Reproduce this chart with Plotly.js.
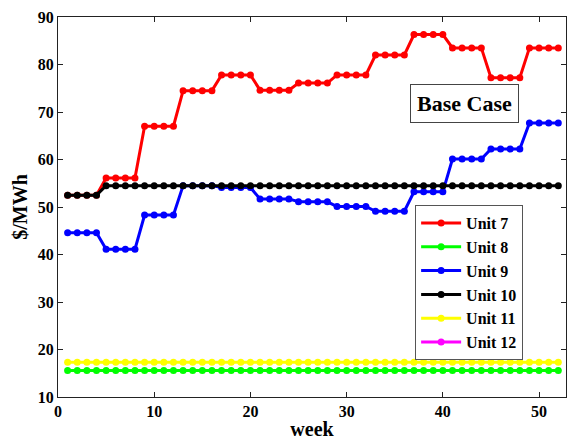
<!DOCTYPE html>
<html>
<head>
<meta charset="utf-8">
<script src="https://cdn.plot.ly/plotly-3.0.1.min.js"></script>
<style>html,body{margin:0;padding:0;background:#fff;}#chart{width:568px;height:445px;}</style>
</head>
<body>
<div id="chart"></div>
<script>
const weeks = Array.from({length: 52}, (_, i) => i + 1);
const unit7 = [52.5,52.5,52.5,52.5, 56.1,56.1,56.1,56.1, 67,67,67,67, 74.5,74.5,74.5,74.5, 77.8,77.8,77.8,77.8,
  74.6,74.6,74.6,74.6, 76.1,76.1,76.1,76.1, 77.8,77.8,77.8,77.8, 82,82,82,82, 86.3,86.3,86.3,86.3,
  83.5,83.5,83.5,83.5, 77.2,77.2,77.2,77.2, 83.5,83.5,83.5,83.5];
const unit8 = Array(52).fill(15.6);
const unit9 = [44.6,44.6,44.6,44.6, 41.1,41.1,41.1,41.1, 48.3,48.3,48.3,48.3, 54.5,54.5,54.5,54.5, 54.1,54.1,54.1,54.1,
  51.7,51.7,51.7,51.7, 51.1,51.1,51.1,51.1, 50.1,50.1,50.1,50.1, 49.1,49.1,49.1,49.1, 53.2,53.2,53.2,53.2,
  60.1,60.1,60.1,60.1, 62.2,62.2,62.2,62.2, 67.7,67.7,67.7,67.7];
const unit10 = [52.5,52.5,52.5,52.5].concat(Array(48).fill(54.5));
const unit11 = Array(52).fill(17.3);
const unit12 = Array(52).fill(0);
const names = ['Unit 7','Unit 8','Unit 9','Unit 10','Unit 11','Unit 12'];
const series = [unit7, unit8, unit9, unit10, unit11, unit12];
const colors = ['#ff0000','#00ff00','#0000ff','#000000','#ffff00','#ff00ff'];
const xTicks = [0,10,20,30,40,50];
const yTicks = [10,20,30,40,50,60,70,80,90];

const font = {family: '"Liberation Serif", "Times New Roman", serif', color: '#000', weight: 'bold'};
const traces = series.map((y, i) => ({
  x: weeks, y: y, name: names[i], type: 'scatter', mode: 'lines+markers',
  line: {color: colors[i], width: 3},
  marker: {color: colors[i], size: 7, symbol: 'circle'}
}));
const axisCommon = {showgrid: false, zeroline: false, showline: true, linecolor: '#222', linewidth: 1,
  mirror: 'ticks', ticks: 'inside', ticklen: 5, tickcolor: '#222',
  tickfont: Object.assign({size: 16}, font)};
const layout = {
  width: 568, height: 445,
  margin: {l: 58, r: 2, t: 17, b: 48},
  paper_bgcolor: '#fff', plot_bgcolor: '#fff',
  showlegend: true,
  xaxis: Object.assign({}, axisCommon, {range: [0, 52.8], tickvals: xTicks,
    title: {text: 'week', font: Object.assign({size: 20}, font), standoff: 2}}),
  yaxis: Object.assign({}, axisCommon, {range: [10, 90], tickvals: yTicks,
    title: {text: '$/MWh', font: Object.assign({size: 20}, font), standoff: 4}}),
  legend: {x: 0.703, y: 0.505, xanchor: 'left', yanchor: 'top', bgcolor: '#fff',
    bordercolor: '#555', borderwidth: 1, font: Object.assign({size: 16}, font),
    tracegroupgap: 0, itemwidth: 40},
  annotations: [{xref: 'paper', yref: 'paper', x: 0.801, y: 0.773, xanchor: 'center', yanchor: 'middle',
    text: 'Base Case', showarrow: false, font: Object.assign({size: 22}, font),
    bgcolor: '#fff', bordercolor: '#444', borderwidth: 1, borderpad: 6}]
};
Plotly.newPlot('chart', traces, layout, {displayModeBar: false, staticPlot: true});
</script>
</body>
</html>
